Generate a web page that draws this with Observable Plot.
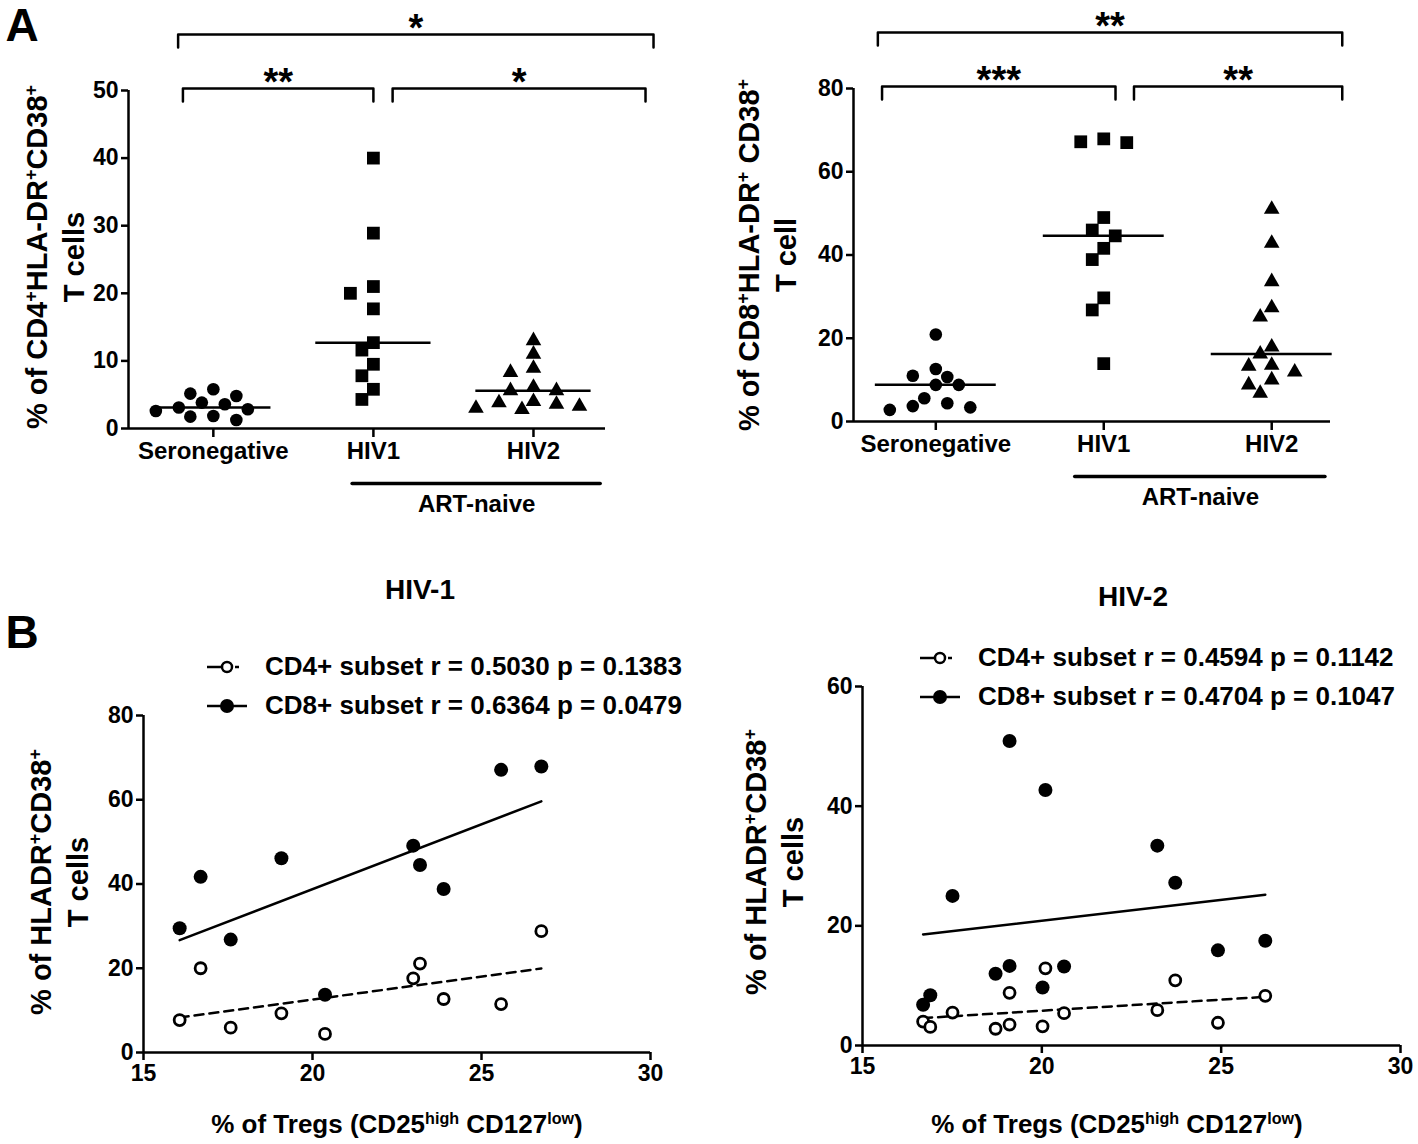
<!DOCTYPE html>
<html><head><meta charset="utf-8">
<script src="https://cdn.jsdelivr.net/npm/d3@7"></script>
<script src="https://cdn.jsdelivr.net/npm/@observablehq/plot@0.6"></script>
<style>
html,body{margin:0;padding:0;background:#fff;}
#page{position:relative;width:1418px;height:1144px;overflow:hidden;background:#fff;color:#000;
 font-family:"Liberation Sans",Arial,Helvetica,sans-serif;font-weight:bold;}
.t{position:absolute;white-space:nowrap;transform:translate(-50%,-50%);line-height:1.15;}
.ylab{position:absolute;white-space:nowrap;text-align:center;font-size:29px;line-height:33px;transform:translate(-50%,-50%) rotate(-90deg);}
.sp{font-size:0.62em;position:relative;top:-0.55em;}
.leg{position:absolute;display:flex;align-items:center;font-size:26px;white-space:nowrap;}
.leg svg{margin-right:18px;}
</style></head>
<body><div id="page"></div>
<script>
// ---------------- data ----------------
const groups = ["Seronegative", "HIV1", "HIV2"];
// Panel A left: % CD4+HLA-DR+CD38+ T cells
const cd4Seroneg = [2.84, 5.16, 1.85, 3.58, 4.81, 1.26, 3.1, 5.80, 1.75, 3.83, 2.59];
const cd4HIV1 = [40.0, 28.9, 21.0, 20.0, 17.7, 12.7, 11.6, 9.5, 7.8, 5.8, 4.3];
const cd4HIV2 = [13.0, 11.0, 8.3, 8.9, 5.6, 6.1, 5.6, 3.8, 3.3, 2.8, 4.0, 3.0, 3.6];
const cd4Stars = ["**", "*", "*"];           // Sero-HIV1, HIV1-HIV2, Sero-HIV2
// Panel A right: % CD8+HLA-DR+CD38+ T cells
const cd8Seroneg = [20.9, 11.0, 12.6, 10.7, 8.8, 8.8, 5.6, 3.7, 2.8, 3.4, 4.4];
const cd8HIV1 = [67.9, 67.0, 67.2, 49.0, 46.0, 44.6, 41.6, 38.9, 29.7, 26.8, 13.9];
const cd8HIV2 = [51.0, 42.8, 33.6, 27.3, 25.1, 17.9, 16.2, 13.3, 11.9, 13.5, 10.0, 8.8, 6.8];
const cd8Stars = ["***", "**", "**"];
// Panel B left: HIV-1
const tregsHIV1 = [16.07, 16.69, 17.58, 19.08, 20.37, 22.98, 23.18, 23.88, 25.58, 26.77];
const actCD4HIV1 = [7.7, 20.0, 5.9, 9.3, 4.4, 17.6, 21.1, 12.7, 11.5, 28.8];
const actCD8HIV1 = [29.5, 41.7, 26.8, 46.1, 13.7, 49.1, 44.5, 38.8, 67.1, 67.9];
const legendHIV1 = ["CD4+ subset r = 0.5030 p = 0.1383", "CD8+ subset r = 0.6364 p = 0.0479"];
// Panel B right: HIV-2
const tregsHIV2 = [16.69, 16.89, 17.51, 18.71, 19.10, 19.10, 20.02, 20.10, 20.62, 23.22, 23.72, 24.91, 26.23];
const actCD4HIV2 = [4.0, 3.1, 5.5, 2.8, 8.8, 3.5, 3.2, 12.9, 5.4, 5.9, 10.9, 3.8, 8.3];
const actCD8HIV2 = [6.8, 8.4, 25.0, 12.0, 13.3, 50.9, 9.7, 42.7, 13.2, 33.4, 27.2, 15.9, 17.5];
const legendHIV2 = ["CD4+ subset r = 0.4594 p = 0.1142", "CD8+ subset r = 0.4704 p = 0.1047"];
const ticksA1 = [0, 10, 20, 30, 40, 50];
const ticksA2 = [0, 20, 40, 60, 80];
const ticksB1 = [0, 20, 40, 60, 80];
const ticksB2 = [0, 20, 40, 60];
const ticksTregs = [15, 20, 25, 30];

// ---------------- helpers ----------------
const FONT = '"Liberation Sans", Arial, Helvetica, sans-serif';
const page = document.getElementById("page");
function place(node, left, top) {
  node.style.position = "absolute"; node.style.left = left + "px"; node.style.top = top + "px";
  page.appendChild(node);
}
function text(html, x, y, size, cls = "t") {
  const d = document.createElement("div"); d.className = cls; d.innerHTML = html;
  d.style.left = x + "px"; d.style.top = y + "px"; if (size) d.style.fontSize = size + "px";
  page.appendChild(d);
}
// simple column-scatter layout (computed, GraphPad-like)
function swarm(vals, ypx, diam, step) {
  const idx = d3.range(vals.length).sort((a, b) => vals[b] - vals[a]);
  const placed = [], off = new Array(vals.length).fill(0);
  for (const i of idx) {
    const y = vals[i] * ypx;
    for (let k = 0; k < 60; k++) {
      const c = k === 0 ? 0 : (k % 2 ? -1 : 1) * Math.ceil(k / 2) * step;
      if (placed.every(p => Math.hypot(p.x - c, p.y - y) >= diam)) { placed.push({x: c, y}); off[i] = c; break; }
    }
  }
  return off;
}
function columnPanel(cfg) {
  const {series, stars, yMax, yTicks, width, height, ml, mr, mt, mb, xDomain, spans, art} = cfg;
  const ypx = (height - mt - mb) / yMax, xpx = (width - ml - mr) / (xDomain[1] - xDomain[0]);
  const u = p => p / ypx;
  const syms = ["circle", "square", "triangle"], radii = [6.3, 7.2, 5.8];
  const dots = series.map((vals, g) => {
    const off = swarm(vals, ypx, 13.5, 11.5);
    const rows = vals.map((v, i) => ({x: g + off[i] / xpx, v}));
    return Plot.dot(rows, {x: "x", y: "v", symbol: syms[g], r: radii[g], fill: "black", stroke: "none"});
  });
  const meds = series.map((vals, g) => ({g, m: d3.median(vals)}));
  const levels = [yMax + u(2), yMax + u(56)], leg = u(13);
  const bpts = [];
  spans.forEach((s, k) => {
    const y = levels[s.level];
    bpts.push({id: k, x: s.x1, y: y - leg}, {id: k, x: s.x1, y}, {id: k, x: s.x2, y}, {id: k, x: s.x2, y: y - leg});
  });
  const blab = spans.map((s, k) => ({x: (s.x1 + s.x2) / 2, y: levels[s.level], t: stars[k]}));
  return Plot.plot({
    width, height, marginLeft: ml, marginRight: mr, marginTop: mt, marginBottom: mb,
    x: {domain: xDomain}, y: {domain: [0, yMax]},
    style: {fontFamily: FONT, fontWeight: "bold", fontSize: "23px", background: "transparent", overflow: "visible", color: "black"},
    marks: [
      Plot.ruleX([xDomain[0]], {y1: 0, y2: yMax, strokeWidth: 2.5}),
      Plot.ruleY([0], {x1: xDomain[0], x2: xDomain[1], strokeWidth: 2.5}),
      Plot.axisY({ticks: yTicks, tickSize: 7, tickPadding: 3, strokeWidth: 2.5, label: null}),
      Plot.axisX({ticks: [0, 1, 2], tickFormat: i => groups[i], tickSize: 9, tickPadding: 4, strokeWidth: 2.5, label: null, fontSize: 24}),
      ...dots,
      Plot.ruleY(meds, {y: "m", x1: d => d.g - 0.36, x2: d => d.g + 0.36, strokeWidth: 2.5}),
      Plot.line(bpts, {x: "x", y: "y", z: "id", strokeWidth: 2.5}),
      Plot.text(blab, {x: "x", y: "y", text: "t", fontSize: 38, dy: -6}),
      Plot.ruleY([-u(55)], {x1: art[0], x2: art[1], strokeWidth: 3.5, strokeLinecap: "round"}),
      Plot.text(["ART-naive"], {x: (art[0] + art[1]) / 2, y: -u(76), text: d => d, fontSize: 24})
    ]
  });
}
function scatterPanel(cfg) {
  const {t, cd4, cd8, yMax, yTicks, width, height, ml, mr, mt, mb} = cfg;
  const rows = t.map((x, i) => ({t: x, a: cd4[i], b: cd8[i]}));
  return Plot.plot({
    width, height, marginLeft: ml, marginRight: mr, marginTop: mt, marginBottom: mb,
    x: {domain: [15, 30]}, y: {domain: [0, yMax]},
    style: {fontFamily: FONT, fontWeight: "bold", fontSize: "23px", background: "transparent", overflow: "visible", color: "black"},
    marks: [
      Plot.ruleX([15], {y1: 0, y2: yMax, strokeWidth: 2.5}),
      Plot.ruleY([0], {x1: 15, x2: 30, strokeWidth: 2.5}),
      Plot.axisY({ticks: yTicks, tickSize: 7, tickPadding: 3, strokeWidth: 2.5, label: null}),
      Plot.axisX({ticks: ticksTregs, tickSize: 8, tickPadding: 4, strokeWidth: 2.5, label: null}),
      Plot.linearRegressionY(rows, {x: "t", y: "b", ci: 0, stroke: "black", strokeWidth: 2.5}),
      Plot.linearRegressionY(rows, {x: "t", y: "a", ci: 0, stroke: "black", strokeWidth: 2.5, strokeDasharray: "9,6"}),
      Plot.dot(rows, {x: "t", y: "a", r: 5.5, fill: "white", stroke: "black", strokeWidth: 2.8}),
      Plot.dot(rows, {x: "t", y: "b", r: 7, fill: "black", stroke: "none"})
    ]
  });
}
function legendRow(label, open, x, y) {
  const d = document.createElement("div"); d.className = "leg";
  const sym = open
    ? `<svg width="40" height="20"><line x1="0" y1="10" x2="14" y2="10" stroke="black" stroke-width="2.5"/><circle cx="20" cy="10" r="5" fill="white" stroke="black" stroke-width="2.5"/><line x1="28" y1="10" x2="32" y2="10" stroke="black" stroke-width="2.5"/></svg>`
    : `<svg width="40" height="20"><line x1="0" y1="10" x2="40" y2="10" stroke="black" stroke-width="2.5"/><circle cx="20" cy="10" r="7" fill="black"/></svg>`;
  d.innerHTML = sym + "<span>" + label + "</span>";
  d.style.left = x + "px"; d.style.top = (y - 15) + "px";
  page.appendChild(d);
}

// ---------------- panel A ----------------
place(columnPanel({
  series: [cd4Seroneg, cd4HIV1, cd4HIV2], stars: cd4Stars, yMax: 50, yTicks: ticksA1,
  width: 700, height: 530, ml: 128, mr: 95, mt: 90, mb: 102, xDomain: [-0.53, 2.45],
  spans: [{x1: -0.19, x2: 1.0, level: 0}, {x1: 1.12, x2: 2.70, level: 0}, {x1: -0.22, x2: 2.75, level: 1}],
  art: [0.87, 2.42]
}), 0, 0);
place(columnPanel({
  series: [cd8Seroneg, cd8HIV1, cd8HIV2], stars: cd8Stars, yMax: 80, yTicks: ticksA2,
  width: 698, height: 530, ml: 133, mr: 88, mt: 88, mb: 109, xDomain: [-0.49, 2.35],
  spans: [{x1: -0.32, x2: 1.07, level: 0}, {x1: 1.18, x2: 2.42, level: 0}, {x1: -0.345, x2: 2.42, level: 1}],
  art: [0.83, 2.32]
}), 720, 0);

// ---------------- panel B ----------------
place(scatterPanel({t: tregsHIV1, cd4: actCD4HIV1, cd8: actCD8HIV1, yMax: 80, yTicks: ticksB1,
  width: 700, height: 400, ml: 143, mr: 50, mt: 15, mb: 48}), 0, 700);
place(scatterPanel({t: tregsHIV2, cd4: actCD4HIV2, cd8: actCD8HIV2, yMax: 60, yTicks: ticksB2,
  width: 698, height: 460, ml: 142, mr: 18, mt: 46, mb: 55}), 720, 640);

// ---------------- texts ----------------
const P = '<span class="sp">+</span>';
text("A", 22, 25, 46);
text("B", 22, 632, 46);
text(`% of CD4${P}HLA-DR${P}CD38${P}<br>T cells`, 56, 257, null, "ylab");
text(`% of CD8${P}HLA-DR${P} CD38${P}<br>T cell`, 768, 255, null, "ylab");
text(`% of HLADR${P}CD38${P}<br>T cells`, 60, 882, null, "ylab");
text(`% of HLADR${P}CD38${P}<br>T cells`, 775, 862, null, "ylab");
text("HIV-1", 420, 590, 28);
text("HIV-2", 1133, 597, 28);
const tregLab = '% of Tregs (CD25<span class="sp">high</span> CD127<span class="sp">low</span>)';
text(tregLab, 397, 1125, 26);
text(tregLab, 1117, 1125, 26);
legendRow(legendHIV1[0], true, 207, 666);
legendRow(legendHIV1[1], false, 207, 705);
legendRow(legendHIV2[0], true, 920, 657);
legendRow(legendHIV2[1], false, 920, 696);
</script></body></html>
